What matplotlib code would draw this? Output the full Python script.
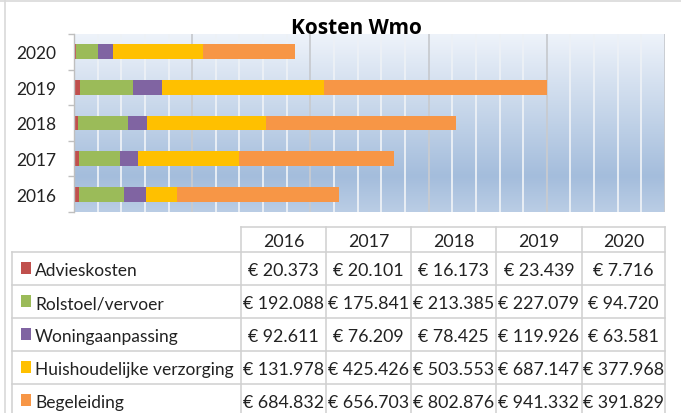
import matplotlib
matplotlib.use("Agg")
import matplotlib.pyplot as plt
import numpy as np
from matplotlib import font_manager as fm
from matplotlib.colors import to_rgb
from matplotlib.ticker import MultipleLocator, FixedLocator, NullFormatter
from matplotlib.patches import Rectangle

# ---------------- data ----------------
years = ["2016", "2017", "2018", "2019", "2020"]
categories = ["Advieskosten", "Rolstoel/vervoer", "Woningaanpassing",
              "Huishoudelijke verzorging", "Begeleiding"]
advieskosten = [20373, 20101, 16173, 23439, 7716]
rolstoel = [192088, 175841, 213385, 227079, 94720]
woningaanpassing = [92611, 76209, 78425, 119926, 63581]
huishoudelijk = [131978, 425426, 503553, 687147, 377968]
begeleiding = [684832, 656703, 802876, 941332, 391829]
series = [advieskosten, rolstoel, woningaanpassing, huishoudelijk, begeleiding]
colors = ["#C0504D", "#9BBB59", "#8064A2", "#FFC000", "#F79646"]
title = "Kosten Wmo"

# ---------------- fonts ----------------
avail = {f.name for f in fm.fontManager.ttflist}
if "Liberation Sans Narrow" in avail:
    body_font, label_size, value_size = "Liberation Sans Narrow", 14, 14
else:
    body_font, label_size, value_size = "Lato", 12.5, 12.8
title_font = "Open Sans" if "Open Sans" in avail else body_font
text_color = "#222222"

W, H = 681, 414
fig = plt.figure(figsize=(W / 100, H / 100), dpi=100)
fig.patch.set_facecolor("white")

def px_box(l, t, r, b):
    return [l / W, 1 - b / H, (r - l) / W, (b - t) / H]

# ---------------- chart ----------------
ax = fig.add_axes(px_box(74, 35, 665, 213))
xmax = 2_500_000
ax.set_xlim(0, xmax)
ax.set_ylim(-0.5, len(years) - 0.5)

# gradient background
stops = [(0.0, "#EEF3FA"), (0.4, "#C9D8EB"), (0.8, "#A4BDDC"), (1.0, "#BACDE5")]
n = 256
t = np.linspace(0, 1, n)
grad = np.zeros((n, 1, 3))
for c in range(3):
    grad[:, 0, c] = np.interp(t, [s[0] for s in stops], [to_rgb(s[1])[c] for s in stops])
ax.imshow(grad, extent=[0, xmax, -0.5, len(years) - 0.5], aspect="auto",
          origin="upper", zorder=0, interpolation="bilinear")

# grid
ax.xaxis.set_major_locator(MultipleLocator(500_000))
ax.xaxis.set_minor_locator(MultipleLocator(100_000))
ax.set_axisbelow(True)
ax.grid(which="minor", axis="x", color="#EDF1F6", lw=1.3, zorder=0.5)
ax.grid(which="major", axis="x", color="#C8CBD0", lw=1.3, zorder=0.6)
ax.tick_params(axis="x", which="both", length=0, labelbottom=False)

# stacked bars
y = np.arange(len(years))
left = np.zeros(len(years))
for vals, col, lab in zip(series, colors, categories):
    ax.barh(y, vals, left=left, height=0.42, color=col, label=lab, zorder=2)
    left += np.array(vals)

# y axis
ax.set_yticks(y)
ax.set_yticklabels(years, fontfamily=body_font, fontsize=label_size, color=text_color)
ax.yaxis.set_minor_locator(FixedLocator(np.arange(-0.5, len(years), 1.0)))
ax.yaxis.set_minor_formatter(NullFormatter())
ax.tick_params(axis="y", which="major", length=0, pad=13)
ax.tick_params(axis="y", which="minor", length=4, width=1, color="#BFBFBF", direction="out")
for s in ["top", "right", "bottom"]:
    ax.spines[s].set_visible(False)
ax.spines["left"].set_color("#BFBFBF")
ax.spines["left"].set_linewidth(1)

fig.text(356 / W, 1 - 34.5 / H, title, ha="center", va="baseline",
         fontfamily=title_font, fontweight="bold", fontsize=15, color="black")

# ---------------- data table ----------------
tab = fig.add_axes([0, 0, 1, 1])
tab.set_xlim(0, W)
tab.set_ylim(H, 0)
tab.axis("off")
tab.patch.set_alpha(0)

line_c = "#D0D0D0"
lw = 1.1
col_x = [241, 326, 411, 496, 582, 665]
label_x0 = 12
head_top, head_bot = 228, 253
row_h = 33
row_tops = [head_bot + i * row_h for i in range(len(categories) + 1)]

tab.plot([col_x[0], col_x[-1]], [head_top, head_top], color=line_c, lw=lw)
for x in col_x:
    tab.plot([x, x], [head_top, H + 5], color=line_c, lw=lw)
tab.plot([label_x0, label_x0], [head_bot, H + 5], color=line_c, lw=lw)
for yt in row_tops:
    tab.plot([label_x0, col_x[-1]], [yt, yt], color=line_c, lw=lw)

for i, yr in enumerate(years):
    cx = (col_x[i] + col_x[i + 1]) / 2
    tab.text(cx, (head_top + head_bot) / 2 + 6.5, yr, ha="center", va="baseline",
             fontfamily=body_font, fontsize=value_size, color=text_color)

def fmt(v):
    return "€ " + f"{v:,}".replace(",", ".")

for r, (cat, vals, col) in enumerate(zip(categories, series, colors)):
    cy = row_tops[r] + row_h / 2
    tab.add_patch(Rectangle((21, cy - 6.3), 9.5, 12, color=col, lw=0))
    tab.text(35, cy + 6.8, cat, ha="left", va="baseline",
             fontfamily=body_font, fontsize=label_size, color=text_color)
    for i, v in enumerate(vals):
        cx = (col_x[i] + col_x[i + 1]) / 2
        tab.text(cx, cy + 6.8, fmt(v), ha="center", va="baseline",
                 fontfamily=body_font, fontsize=value_size, color=text_color)

# outer frame lines
tab.plot([0, W], [1.5, 1.5], color="#D9D9D9", lw=1.2)
tab.plot([5, 5], [2, H + 5], color="#D9D9D9", lw=1.2)

fig.savefig("out.png", dpi=100, facecolor="white")
